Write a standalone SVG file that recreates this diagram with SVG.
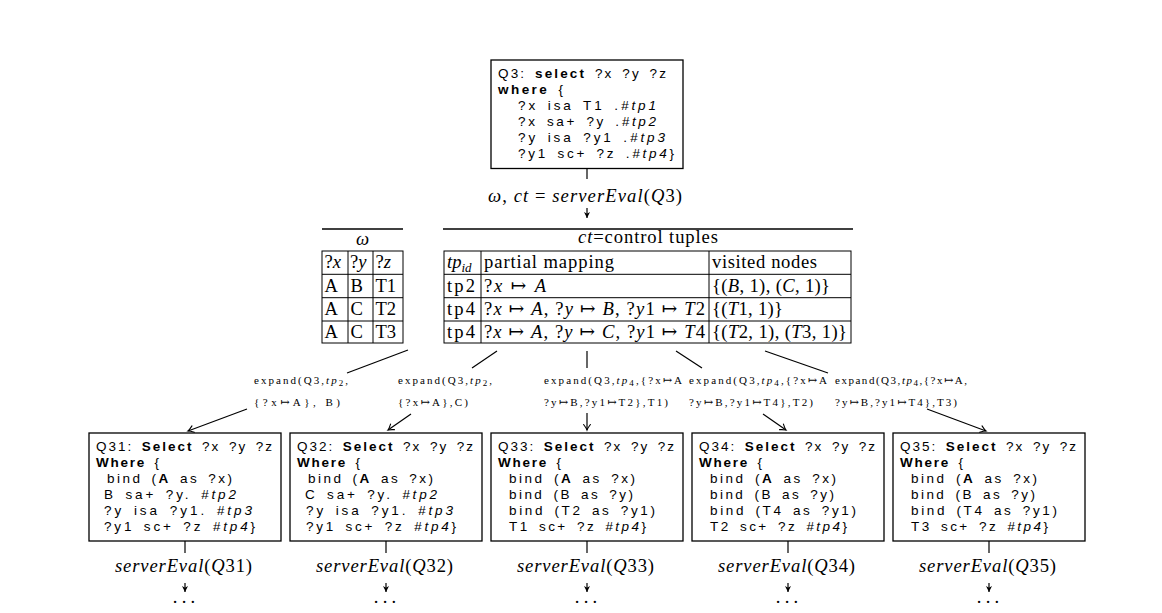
<svg xmlns="http://www.w3.org/2000/svg" width="1162" height="613" viewBox="0 0 1162 613">
  <style>
    .box { fill: #fff; stroke: #000; stroke-width: 1.3; }
    .code { font-family: "Liberation Sans", "DejaVu Sans", sans-serif; font-size: 13.5px; fill: #000; word-spacing: 3px; }
    .b { font-weight: bold; }
    .i { font-style: italic; }
    .tb { font-family: "Liberation Serif", "DejaVu Serif", serif; font-size: 18.6px; fill: #000; }
    .math { font-family: "Liberation Serif", "DejaVu Serif", serif; font-size: 18.6px; fill: #000; }
    .lb { font-family: "Liberation Serif", "DejaVu Serif", serif; font-size: 11px; fill: #000; }
    .rule { stroke: #000; stroke-width: 1.3; fill: none; }
    .grid { stroke: #000; stroke-width: 1; fill: none; }
    .edge { stroke: #000; stroke-width: 1.2; fill: none; }
    .arr { marker-end: url(#to); }
    .arrs { marker-end: url(#stealth); }
  </style>
  <defs>
    <marker id="to" viewBox="-7 -5 9 10" refX="0" refY="0" markerWidth="9" markerHeight="10" orient="auto" markerUnits="userSpaceOnUse">
      <path d="M-5.5,-3.4 Q-1.8,-0.6 0,0 Q-1.8,0.6 -5.5,3.4" fill="none" stroke="#000" stroke-width="1.1" stroke-linecap="round"/>
    </marker>
    <marker id="stealth" viewBox="-7 -4 8 8" refX="0" refY="0" markerWidth="8" markerHeight="8" orient="auto" markerUnits="userSpaceOnUse">
      <path d="M0,0 L-6,-3 L-4.2,0 L-6,3 z" fill="#000"/>
    </marker>
  </defs>

  <!-- root query -->
  <g id="q3">
    <rect class="box" x="491" y="60" width="192" height="108.5"/>
    <text class="code" x="498" y="77.5" textLength="168" lengthAdjust="spacing">Q3: <tspan class="b">select</tspan> ?x ?y ?z</text>
    <text class="code" x="498" y="93.5" textLength="65" lengthAdjust="spacing"><tspan class="b">where</tspan> {</text>
    <text class="code" x="518" y="109.7" textLength="138" lengthAdjust="spacing">?x isa T1 .<tspan class="i">#tp1</tspan></text>
    <text class="code" x="518" y="125.8" textLength="138" lengthAdjust="spacing">?x sa+ ?y .<tspan class="i">#tp2</tspan></text>
    <text class="code" x="518" y="142" textLength="147" lengthAdjust="spacing">?y isa ?y1 .<tspan class="i">#tp3</tspan></text>
    <text class="code" x="518" y="158" textLength="156" lengthAdjust="spacing">?y1 sc+ ?z .<tspan class="i">#tp4</tspan>}</text>
  </g>

  <g id="eval-q3">
    <text class="math" x="488" y="201.5" textLength="194" lengthAdjust="spacing"><tspan class="i">ω</tspan>, <tspan class="i">ct</tspan> = <tspan class="i">serverEval</tspan>(<tspan class="i">Q</tspan>3)</text>
  </g>

  <!-- solution mappings -->
  <g id="omega-table">
    <line class="rule" x1="322" y1="229" x2="403" y2="229"/>
    <text class="tb i" x="362.5" y="245" text-anchor="middle">ω</text>
    <rect class="grid" x="322" y="251" width="81" height="92"/>
    <line class="grid" x1="322" y1="274.3" x2="403" y2="274.3"/>
    <line class="grid" x1="322" y1="297.7" x2="403" y2="297.7"/>
    <line class="grid" x1="322" y1="321" x2="403" y2="321"/>
    <line class="grid" x1="348" y1="251" x2="348" y2="343"/>
    <line class="grid" x1="373" y1="251" x2="373" y2="343"/>
    <text class="tb" x="324.5" y="268">?<tspan class="i">x</tspan></text>
    <text class="tb" x="350" y="268">?<tspan class="i">y</tspan></text>
    <text class="tb" x="375.5" y="268">?<tspan class="i">z</tspan></text>
    <text class="tb" x="324.5" y="291.5">A</text>
    <text class="tb" x="350.5" y="291.5">B</text>
    <text class="tb" x="375.5" y="291.5">T1</text>
    <text class="tb" x="324.5" y="314.8">A</text>
    <text class="tb" x="350.5" y="314.8">C</text>
    <text class="tb" x="375.5" y="314.8">T2</text>
    <text class="tb" x="324.5" y="338">A</text>
    <text class="tb" x="350.5" y="338">C</text>
    <text class="tb" x="375.5" y="338">T3</text>
  </g>

  <!-- control tuples -->
  <g id="ct-table">
    <line class="rule" x1="443" y1="229" x2="853" y2="229"/>
    <text class="tb" x="578" y="243" textLength="140" lengthAdjust="spacing"><tspan class="i">ct</tspan>=control tuples</text>
    <rect class="grid" x="444" y="251" width="407" height="92"/>
    <line class="grid" x1="444" y1="274.3" x2="851" y2="274.3"/>
    <line class="grid" x1="444" y1="297.7" x2="851" y2="297.7"/>
    <line class="grid" x1="444" y1="321" x2="851" y2="321"/>
    <line class="grid" x1="481" y1="251" x2="481" y2="343"/>
    <line class="grid" x1="709" y1="251" x2="709" y2="343"/>
    <text class="tb" x="447" y="268"><tspan class="i">tp</tspan><tspan class="i" font-size="13" dy="3.5">id</tspan></text>
    <text class="tb" x="484" y="268" textLength="130" lengthAdjust="spacing">partial mapping</text>
    <text class="tb" x="712" y="268" textLength="105" lengthAdjust="spacing">visited nodes</text>
    <text class="tb" x="447" y="291.5" textLength="28" lengthAdjust="spacing">tp2</text>
    <text class="tb" x="484" y="291.5" textLength="62" lengthAdjust="spacing">?<tspan class="i">x</tspan> ↦ <tspan class="i">A</tspan></text>
    <text class="tb" x="712" y="291.5" textLength="118" lengthAdjust="spacing">{(<tspan class="i">B</tspan>, 1), (<tspan class="i">C</tspan>, 1)}</text>
    <text class="tb" x="447" y="314.8" textLength="28" lengthAdjust="spacing">tp4</text>
    <text class="tb" x="484" y="314.8" textLength="221" lengthAdjust="spacing">?<tspan class="i">x</tspan> ↦ <tspan class="i">A</tspan>, ?<tspan class="i">y</tspan> ↦ <tspan class="i">B</tspan>, ?<tspan class="i">y</tspan>1 ↦ <tspan class="i">T</tspan>2</text>
    <text class="tb" x="712" y="314.8" textLength="71" lengthAdjust="spacing">{(<tspan class="i">T</tspan>1, 1)}</text>
    <text class="tb" x="447" y="338" textLength="28" lengthAdjust="spacing">tp4</text>
    <text class="tb" x="484" y="338" textLength="221" lengthAdjust="spacing">?<tspan class="i">x</tspan> ↦ <tspan class="i">A</tspan>, ?<tspan class="i">y</tspan> ↦ <tspan class="i">C</tspan>, ?<tspan class="i">y</tspan>1 ↦ <tspan class="i">T</tspan>4</text>
    <text class="tb" x="712" y="338" textLength="135" lengthAdjust="spacing">{(<tspan class="i">T</tspan>2, 1), (<tspan class="i">T</tspan>3, 1)}</text>
  </g>

  <!-- edge labels -->
  <g id="label-1">
    <text class="lb" x="254" y="383.5" textLength="94" lengthAdjust="spacing">expand(Q3,<tspan class="i">tp</tspan><tspan font-size="9" dy="2.5">2</tspan><tspan dy="-2.5">,</tspan></text>
    <text class="lb" x="254" y="405.5" textLength="86" lengthAdjust="spacing">{?x↦A},  B)</text>
  </g>
  <g id="label-2">
    <text class="lb" x="398" y="383.5" textLength="94" lengthAdjust="spacing">expand(Q3,<tspan class="i">tp</tspan><tspan font-size="9" dy="2.5">2</tspan><tspan dy="-2.5">,</tspan></text>
    <text class="lb" x="398" y="405.5" textLength="70" lengthAdjust="spacing">{?x↦A},C)</text>
  </g>
  <g id="label-3">
    <text class="lb" x="544" y="383.5" textLength="138" lengthAdjust="spacing">expand(Q3,<tspan class="i">tp</tspan><tspan font-size="9" dy="2.5">4</tspan><tspan dy="-2.5">,{?x↦A</tspan></text>
    <text class="lb" x="544" y="405.5" textLength="124" lengthAdjust="spacing">?y↦B,?y1↦T2},T1)</text>
  </g>
  <g id="label-4">
    <text class="lb" x="689" y="383.5" textLength="138" lengthAdjust="spacing">expand(Q3,<tspan class="i">tp</tspan><tspan font-size="9" dy="2.5">4</tspan><tspan dy="-2.5">,{?x↦A</tspan></text>
    <text class="lb" x="689" y="405.5" textLength="124" lengthAdjust="spacing">?y↦B,?y1↦T4},T2)</text>
  </g>
  <g id="label-5">
    <text class="lb" x="835" y="383.5" textLength="132" lengthAdjust="spacing">expand(Q3,<tspan class="i">tp</tspan><tspan font-size="9" dy="2.5">4</tspan><tspan dy="-2.5">,{?x↦A,</tspan></text>
    <text class="lb" x="835" y="405.5" textLength="122" lengthAdjust="spacing">?y↦B,?y1↦T4},T3)</text>
  </g>

  <!-- expanded sub-queries -->
  <g id="q31" transform="translate(89,433)">
    <rect class="box" x="0" y="0" width="192" height="108"/>
    <text class="code" x="7" y="17.7" textLength="176" lengthAdjust="spacing">Q31: <tspan class="b">Select</tspan> ?x ?y ?z</text>
    <text class="code" x="7" y="33.8" textLength="63" lengthAdjust="spacing"><tspan class="b">Where</tspan> {</text>
    <text class="code" x="18" y="50" textLength="125" lengthAdjust="spacing">bind (<tspan class="b">A</tspan> as ?x)</text>
    <text class="code" x="15" y="66" textLength="132" lengthAdjust="spacing">B sa+ ?y. <tspan class="i">#tp2</tspan></text>
    <text class="code" x="15" y="82" textLength="148" lengthAdjust="spacing">?y isa ?y1. <tspan class="i">#tp3</tspan></text>
    <text class="code" x="15" y="98" textLength="151" lengthAdjust="spacing">?y1 sc+ ?z <tspan class="i">#tp4</tspan>}</text>
  </g>
  <g id="q32" transform="translate(290,433)">
    <rect class="box" x="0" y="0" width="192" height="108"/>
    <text class="code" x="7" y="17.7" textLength="176" lengthAdjust="spacing">Q32: <tspan class="b">Select</tspan> ?x ?y ?z</text>
    <text class="code" x="7" y="33.8" textLength="63" lengthAdjust="spacing"><tspan class="b">Where</tspan> {</text>
    <text class="code" x="18" y="50" textLength="125" lengthAdjust="spacing">bind (<tspan class="b">A</tspan> as ?x)</text>
    <text class="code" x="15" y="66" textLength="132" lengthAdjust="spacing">C sa+ ?y. <tspan class="i">#tp2</tspan></text>
    <text class="code" x="16" y="82" textLength="147" lengthAdjust="spacing">?y isa ?y1. <tspan class="i">#tp3</tspan></text>
    <text class="code" x="16" y="98" textLength="150" lengthAdjust="spacing">?y1 sc+ ?z <tspan class="i">#tp4</tspan>}</text>
  </g>
  <g id="q33" transform="translate(491,433)">
    <rect class="box" x="0" y="0" width="192" height="108"/>
    <text class="code" x="7" y="17.7" textLength="176" lengthAdjust="spacing">Q33: <tspan class="b">Select</tspan> ?x ?y ?z</text>
    <text class="code" x="7" y="33.8" textLength="63" lengthAdjust="spacing"><tspan class="b">Where</tspan> {</text>
    <text class="code" x="18" y="50" textLength="126" lengthAdjust="spacing">bind (<tspan class="b">A</tspan> as ?x)</text>
    <text class="code" x="18" y="66" textLength="124" lengthAdjust="spacing">bind (B as ?y)</text>
    <text class="code" x="18" y="82" textLength="146" lengthAdjust="spacing">bind (T2 as ?y1)</text>
    <text class="code" x="18" y="98" textLength="137" lengthAdjust="spacing">T1 sc+ ?z <tspan class="i">#tp4</tspan>}</text>
  </g>
  <g id="q34" transform="translate(692,433)">
    <rect class="box" x="0" y="0" width="192" height="108"/>
    <text class="code" x="7" y="17.7" textLength="176" lengthAdjust="spacing">Q34: <tspan class="b">Select</tspan> ?x ?y ?z</text>
    <text class="code" x="7" y="33.8" textLength="63" lengthAdjust="spacing"><tspan class="b">Where</tspan> {</text>
    <text class="code" x="18" y="50" textLength="126" lengthAdjust="spacing">bind (<tspan class="b">A</tspan> as ?x)</text>
    <text class="code" x="18" y="66" textLength="124" lengthAdjust="spacing">bind (B as ?y)</text>
    <text class="code" x="18" y="82" textLength="146" lengthAdjust="spacing">bind (T4 as ?y1)</text>
    <text class="code" x="18" y="98" textLength="137" lengthAdjust="spacing">T2 sc+ ?z <tspan class="i">#tp4</tspan>}</text>
  </g>
  <g id="q35" transform="translate(893,433)">
    <rect class="box" x="0" y="0" width="192" height="108"/>
    <text class="code" x="7" y="17.7" textLength="176" lengthAdjust="spacing">Q35: <tspan class="b">Select</tspan> ?x ?y ?z</text>
    <text class="code" x="7" y="33.8" textLength="63" lengthAdjust="spacing"><tspan class="b">Where</tspan> {</text>
    <text class="code" x="18" y="50" textLength="126" lengthAdjust="spacing">bind (<tspan class="b">A</tspan> as ?x)</text>
    <text class="code" x="18" y="66" textLength="124" lengthAdjust="spacing">bind (B as ?y)</text>
    <text class="code" x="18" y="82" textLength="146" lengthAdjust="spacing">bind (T4 as ?y1)</text>
    <text class="code" x="18" y="98" textLength="137" lengthAdjust="spacing">T3 sc+ ?z <tspan class="i">#tp4</tspan>}</text>
  </g>

  <!-- evaluation results of the sub-queries -->
  <g id="eval-q31">
    <text class="math" x="183.5" y="572" text-anchor="middle" textLength="137" lengthAdjust="spacing"><tspan class="i">serverEval</tspan>(<tspan class="i">Q</tspan>31)</text>
    <text class="math" x="172.8" y="603" letter-spacing="4.2">...</text>
  </g>
  <g id="eval-q32">
    <text class="math" x="384.5" y="572" text-anchor="middle" textLength="137" lengthAdjust="spacing"><tspan class="i">serverEval</tspan>(<tspan class="i">Q</tspan>32)</text>
    <text class="math" x="373.8" y="603" letter-spacing="4.2">...</text>
  </g>
  <g id="eval-q33">
    <text class="math" x="585.5" y="572" text-anchor="middle" textLength="137" lengthAdjust="spacing"><tspan class="i">serverEval</tspan>(<tspan class="i">Q</tspan>33)</text>
    <text class="math" x="574.8" y="603" letter-spacing="4.2">...</text>
  </g>
  <g id="eval-q34">
    <text class="math" x="786.5" y="572" text-anchor="middle" textLength="137" lengthAdjust="spacing"><tspan class="i">serverEval</tspan>(<tspan class="i">Q</tspan>34)</text>
    <text class="math" x="775.8" y="603" letter-spacing="4.2">...</text>
  </g>
  <g id="eval-q35">
    <text class="math" x="987.5" y="572" text-anchor="middle" textLength="137" lengthAdjust="spacing"><tspan class="i">serverEval</tspan>(<tspan class="i">Q</tspan>35)</text>
    <text class="math" x="976.8" y="603" letter-spacing="4.2">...</text>
  </g>

  <!-- connectors -->
  <g id="connectors">
    <line class="edge" x1="587" y1="168.5" x2="587" y2="179"/>
    <line class="edge arrs" x1="587" y1="208" x2="587" y2="218"/>

    <line class="edge" x1="408" y1="350" x2="347" y2="373"/>
    <line class="edge" x1="497" y1="351" x2="472" y2="368"/>
    <line class="edge" x1="587" y1="351" x2="587" y2="368"/>
    <line class="edge" x1="676" y1="351" x2="702" y2="368"/>
    <line class="edge" x1="765" y1="351" x2="828" y2="373"/>

    <line class="edge arr" x1="247" y1="409" x2="188" y2="431"/>
    <line class="edge arr" x1="411" y1="414" x2="388" y2="430"/>
    <line class="edge arr" x1="587" y1="413" x2="587" y2="430"/>
    <line class="edge arr" x1="763" y1="414" x2="786" y2="430"/>
    <line class="edge arr" x1="927" y1="409" x2="986" y2="431"/>

    <line class="edge" x1="185" y1="541" x2="185" y2="553"/>
    <line class="edge" x1="386" y1="541" x2="386" y2="553"/>
    <line class="edge" x1="587" y1="541" x2="587" y2="553"/>
    <line class="edge" x1="788" y1="541" x2="788" y2="553"/>
    <line class="edge" x1="989" y1="541" x2="989" y2="553"/>

    <line class="edge arrs" x1="185" y1="583" x2="185" y2="592"/>
    <line class="edge arrs" x1="386" y1="583" x2="386" y2="592"/>
    <line class="edge arrs" x1="587" y1="583" x2="587" y2="592"/>
    <line class="edge arrs" x1="788" y1="583" x2="788" y2="592"/>
    <line class="edge arrs" x1="989" y1="583" x2="989" y2="592"/>
  </g>
</svg>
